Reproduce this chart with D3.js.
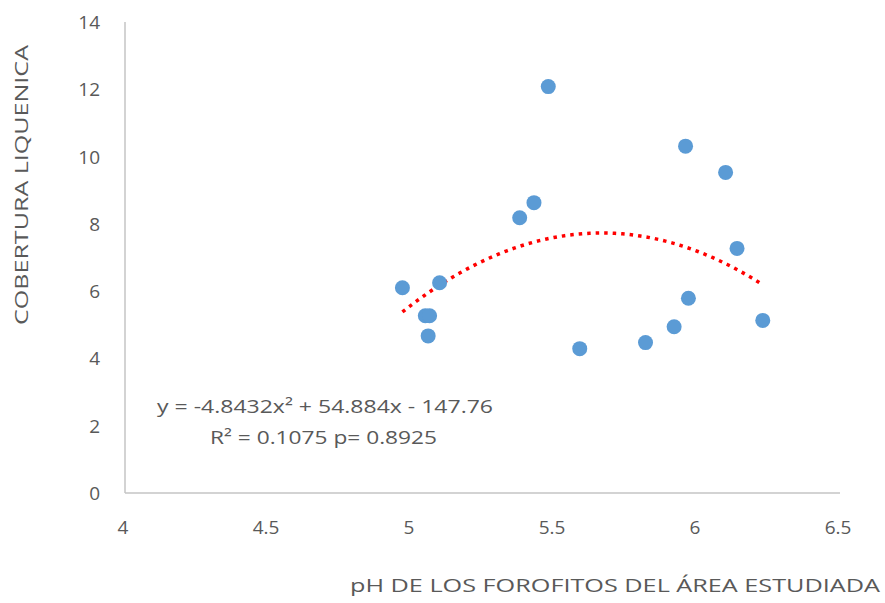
<!DOCTYPE html>
<html>
<head>
<meta charset="utf-8">
<script src="https://cdn.jsdelivr.net/npm/d3@7/dist/d3.min.js"></script>
<style>
  body { margin: 0; background: #fff; }
  text { font-family: "Open Sans", Lato, sans-serif; fill: #595959; }
</style>
</head>
<body>
<div id="chart"></div>
<script>
// datos
const phValues = [5.48, 5.96, 6.10, 5.43, 5.38, 6.14, 4.97, 5.10, 5.05, 5.065, 5.06, 5.97, 5.92, 5.82, 5.59, 6.23];
const coberturaValues = [12.08, 10.31, 9.53, 8.63, 8.18, 7.27, 6.10, 6.25, 5.27, 5.27, 4.67, 5.79, 4.94, 4.47, 4.29, 5.13];
const xTicks = [4, 4.5, 5, 5.5, 6, 6.5];
const yTicks = [0, 2, 4, 6, 8, 10, 12, 14];
// coeficientes de la línea de tendencia polinómica (a, b, c)
const trendCoef = [-4.8432, 54.884, -147.76];
const eqLines = ['y = -4.8432x² + 54.884x - 147.76', 'R² = 0.1075 p= 0.8925'];

const width = 885, height = 603;
const svg = d3.select('#chart').append('svg')
    .attr('width', width)
    .attr('height', height);

const x = d3.scaleLinear().domain([4, 6.5]).range([125, 840]);
const y = d3.scaleLinear().domain([0, 14]).range([493, 22]);

// ejes
svg.append('line')
    .attr('x1', x(4)).attr('x2', x(6.5))
    .attr('y1', y(0)).attr('y2', y(0))
    .attr('stroke', '#c4c4c4').attr('stroke-width', 1.5);
svg.append('line')
    .attr('x1', x(4)).attr('x2', x(4))
    .attr('y1', y(0)).attr('y2', y(14))
    .attr('stroke', '#c4c4c4').attr('stroke-width', 1.5);

// etiquetas de los ticks
svg.append('g').selectAll('text')
    .data(xTicks)
    .enter()
    .append('text')
    .attr('x', d => x(d) - 2)
    .attr('y', 534)
    .attr('text-anchor', 'middle')
    .style('font-size', '19px')
    .text(d => d);

svg.append('g').selectAll('text')
    .data(yTicks)
    .enter()
    .append('text')
    .attr('x', 100)
    .attr('y', d => y(d) + 7)
    .attr('text-anchor', 'end')
    .style('font-size', '19px')
    .text(d => d);

// títulos de ejes
svg.append('text')
    .attr('transform', 'translate(28,325) rotate(-90)')
    .attr('textLength', 280)
    .attr('lengthAdjust', 'spacingAndGlyphs')
    .style('font-size', '18px')
    .text('COBERTURA  LIQUENICA');

svg.append('text')
    .attr('x', 350)
    .attr('y', 592)
    .attr('textLength', 530)
    .attr('lengthAdjust', 'spacingAndGlyphs')
    .style('font-size', '18px')
    .text('pH  DE LOS FOROFITOS DEL ÁREA  ESTUDIADA');

// línea de tendencia
const [a, b, c] = trendCoef;
const xMin = d3.min(phValues), xMax = d3.max(phValues);
const trendPts = d3.range(0, 101).map(i => {
    const xv = xMin + (xMax - xMin) * i / 100;
    return [xv, a * xv * xv + b * xv + c];
});
svg.append('path')
    .datum(trendPts)
    .attr('fill', 'none')
    .attr('stroke', '#ff0000')
    .attr('stroke-width', 3.5)
    .attr('stroke-dasharray', '3.5,5')
    .attr('d', d3.line().x(d => x(d[0])).y(d => y(d[1])));

// puntos
svg.append('g').selectAll('circle')
    .data(phValues.map((v, i) => [v, coberturaValues[i]]))
    .enter()
    .append('circle')
    .attr('cx', d => x(d[0]))
    .attr('cy', d => y(d[1]))
    .attr('r', 7.5)
    .attr('fill', '#5b9bd5');

// ecuación
svg.append('text')
    .attr('x', 157)
    .attr('y', 413)
    .attr('textLength', 336)
    .attr('lengthAdjust', 'spacingAndGlyphs')
    .style('font-size', '19px')
    .text(eqLines[0]);
svg.append('text')
    .attr('x', 210)
    .attr('y', 444)
    .attr('textLength', 227)
    .attr('lengthAdjust', 'spacingAndGlyphs')
    .style('font-size', '19px')
    .text(eqLines[1]);
</script>
</body>
</html>
